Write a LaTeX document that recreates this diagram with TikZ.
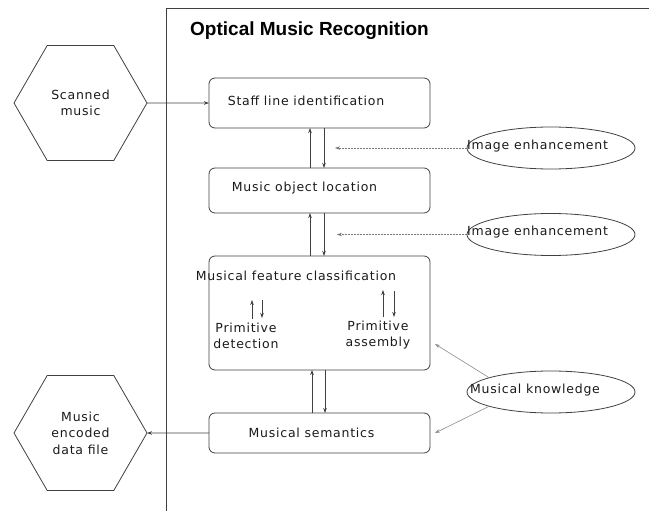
\documentclass[tikz,border=0pt]{standalone}
\usepackage{fontspec}
\setmainfont[LetterSpace=6]{DejaVu Sans}
\newfontfamily\titlefont{Liberation Sans}
\usetikzlibrary{shapes.geometric,arrows.meta}
\definecolor{ln}{HTML}{404040}
\definecolor{tx}{HTML}{1a1a1a}
\begin{document}
\begin{tikzpicture}[x=1pt,y=-1pt,
  every node/.style={text=tx,font=\fontsize{12.5}{16.5}\selectfont},
  arr/.style={draw=ln,line width=0.8pt,-{Stealth[length=5pt,width=3.5pt]}},
  dasharr/.style={draw=ln!70,line width=0.6pt,dash pattern=on 2pt off 1pt,-{Stealth[length=5pt,width=3.5pt]}},
  thinarr/.style={draw=ln!60,line width=0.6pt,-{Stealth[length=5pt,width=3.5pt]}},
  procbox/.style={draw=ln,line width=0.8pt,rounded corners=6pt,minimum width=221pt,inner sep=0pt,outer sep=0pt},
  hexa/.style={draw=ln,line width=0.8pt,regular polygon,regular polygon sides=6,minimum size=133pt,inner sep=0pt,outer sep=0pt,align=center},
  ell/.style={draw=ln,line width=0.8pt,ellipse,minimum width=168pt,minimum height=42pt,inner sep=0pt,outer sep=0pt},
  lbl/.style={inner sep=0pt,align=center}]
\useasboundingbox (0,0) rectangle (649,511);
% frame
\draw[ln,line width=0.8pt] (166.5,511) -- (166.5,8) -- (649,8);
\node[anchor=base west,inner sep=0pt,font=\titlefont\bfseries\fontsize{19}{20}\selectfont,text=black] (title) at (190,36) {Optical Music Recognition};
% hexagons
\node[hexa] (scan) at (80.5,103) {Scanned\\music};
\node[hexa] (out) at (80.5,433) {Music\\encoded\\data file};
% process boxes
\node[procbox,minimum height=50pt] (b1) at (319.5,103) {};
\node[procbox,minimum height=45pt] (b2) at (319.5,190.5) {};
\node[procbox,minimum height=114pt] (b3) at (319.5,313) {};
\node[procbox,minimum height=40pt] (b4) at (319.5,433) {};
\node[lbl] (b1t) at (306,101) {Staff line identification};
\node[lbl] (b2t) at (304.5,188) {Music object location};
\node[lbl] (b3t) at (296,276) {Musical feature classification};
\node[lbl] (b4t) at (311.5,433) {Musical semantics};
\node[lbl] (pd) at (246,336) {Primitive\\detection};
\node[lbl] (pa) at (378,335) {Primitive\\assembly};
% ellipses
\node[ell] (e1) at (551,148) {};
\node[ell] (e2) at (551,234.5) {};
\node[ell] (k) at (551,392) {};
\node[anchor=west,inner sep=0pt] (e1t) at (467,146) {Image enhancement};
\node[anchor=west,inner sep=0pt] (e2t) at (467,232) {Image enhancement};
\node[anchor=west,inner sep=0pt] (kt) at (470,390) {Musical knowledge};
% flow arrows
\draw[arr] (scan.east) -- (b1.west);
\draw[arr] (b4.west) -- (out.east);
\draw[arr] ([xshift=-9.5pt]b2.north) -- ([xshift=-9.5pt]b1.south);
\draw[arr] ([xshift=4.5pt]b1.south) -- ([xshift=4.5pt]b2.north);
\draw[arr] ([xshift=-9.5pt]b3.north) -- ([xshift=-9.5pt]b2.south);
\draw[arr] ([xshift=4.5pt]b2.south) -- ([xshift=4.5pt]b3.north);
\draw[arr] ([xshift=-7.5pt]b4.north) -- ([xshift=-7.5pt]b3.south);
\draw[arr] ([xshift=5.5pt]b3.south) -- ([xshift=5.5pt]b4.north);
% inner arrows
\coordinate (pdu) at (252,300);
\coordinate (pdd) at (262,318);
\coordinate (pau) at (383,290);
\coordinate (pad) at (394,317);
\draw[arr] (252,319) -- (pdu);
\draw[arr] (262,300) -- (pdd);
\draw[arr] (383,317) -- (pau);
\draw[arr] (394,291) -- (pad);
% dashed arrows
\coordinate (t1) at (335,148);
\coordinate (t2) at (337,234.5);
\draw[dasharr] (e1.west) -- (t1);
\draw[dasharr] (e2.west) -- (t2);
% knowledge arrows
\coordinate (k1) at (435,344);
\coordinate (k2) at (435,433);
\draw[thinarr] (k.167) -- (k1);
\draw[thinarr] (k.193) -- (k2);
\end{tikzpicture}
\end{document}
